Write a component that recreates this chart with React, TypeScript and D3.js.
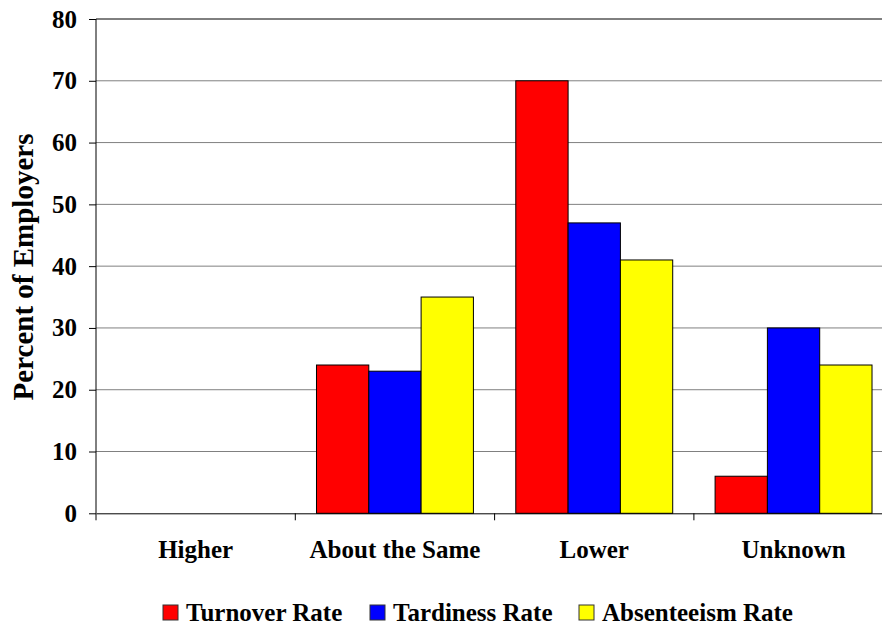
import React, { useEffect, useRef } from 'react';
import * as d3 from 'd3';

const categories = ['Higher', 'About the Same', 'Lower', 'Unknown'];
const seriesNames = ['Turnover Rate', 'Tardiness Rate', 'Absenteeism Rate'];
const seriesColors = ['#ff0000', '#0000ff', '#ffff00'];
const turnover = [0, 24, 70, 6];
const tardiness = [0, 23, 47, 30];
const absenteeism = [0, 35, 41, 24];
const yTicks = [0, 10, 20, 30, 40, 50, 60, 70, 80];

export default () => {
    const svgRef = useRef<SVGSVGElement>(null);
    const width = 882;
    const height = 626;

    useEffect(() => {
        const svg = d3.select(svgRef.current);
        svg.selectAll('*').remove();

        const font = '"Liberation Serif", "Times New Roman", serif';
        const left = 96;
        const top = 19;
        const bottom = 513.3;
        const right = left + 4 * 199.3;

        const x0 = d3.scaleBand().domain(categories).range([left, right]).padding(0);
        const x1 = d3.scaleBand().domain(seriesNames).range([0, x0.bandwidth()])
            .paddingInner(0).paddingOuter(0.405);
        const y = d3.scaleLinear().domain([0, 80]).range([bottom, top]);

        const values = [turnover, tardiness, absenteeism];

        // gridlines
        svg.append('g').selectAll('line').data(yTicks.filter(t => t > 0)).join('line')
            .attr('x1', left).attr('x2', right)
            .attr('y1', d => y(d)).attr('y2', d => y(d))
            .attr('stroke', d => d === 80 ? '#000' : '#808080')
            .attr('stroke-width', 1);

        // bars
        categories.forEach((c, ci) => {
            seriesNames.forEach((s, si) => {
                const v = values[si][ci];
                if (v <= 0) return;
                svg.append('rect')
                    .attr('x', (x0(c) as number) + (x1(s) as number))
                    .attr('y', y(v))
                    .attr('width', x1.bandwidth())
                    .attr('height', y(0) - y(v))
                    .attr('fill', seriesColors[si])
                    .attr('stroke', '#000')
                    .attr('stroke-width', 1);
            });
        });

        // y axis
        const yAxis = svg.append('g').attr('transform', `translate(${left},0)`)
            .call(d3.axisLeft(y).tickValues(yTicks).tickSize(7).tickPadding(12).tickFormat(d3.format('d')))
            .attr('font-family', font).attr('font-size', 25).attr('font-weight', 'bold');
        yAxis.select('.domain').attr('stroke', '#000').attr('d', `M-0,${top}V${bottom}`);
        yAxis.selectAll('.tick line').attr('stroke', '#000');
        yAxis.selectAll('.tick text').attr('fill', '#000');

        // x axis
        const xAxis = svg.append('g').attr('transform', `translate(0,${bottom})`)
            .call(d3.axisBottom(x0).tickSize(0))
            .attr('font-family', font).attr('font-size', 25).attr('font-weight', 'bold');
        xAxis.select('.domain').attr('stroke', '#000');
        xAxis.selectAll('.tick text').attr('fill', '#000').attr('y', 45).attr('dy', 0);
        svg.append('g').selectAll('line').data(categories).join('line')
            .attr('x1', d => x0(d) as number).attr('x2', d => x0(d) as number)
            .attr('y1', bottom).attr('y2', bottom + 7)
            .attr('stroke', '#000');

        // y title
        svg.append('text')
            .attr('transform', `translate(33,267) rotate(-90)`)
            .attr('text-anchor', 'middle')
            .attr('font-family', font).attr('font-size', 29).attr('font-weight', 'bold')
            .text('Percent of Employers');

        // legend
        const legendX = [163, 370, 579];
        const lg = svg.append('g');
        seriesNames.forEach((s, i) => {
            lg.append('rect')
                .attr('x', legendX[i]).attr('y', 605)
                .attr('width', 15).attr('height', 15)
                .attr('fill', seriesColors[i]).attr('stroke', '#333').attr('stroke-width', 1);
            lg.append('text')
                .attr('x', legendX[i] + 23).attr('y', 621)
                .attr('font-family', font).attr('font-size', 25).attr('font-weight', 'bold')
                .text(s);
        });
    }, []);

    return <svg ref={svgRef} width={width} height={height}
        style={{ position: 'absolute', left: 0, top: 0, background: '#fff' }}></svg>;
};
